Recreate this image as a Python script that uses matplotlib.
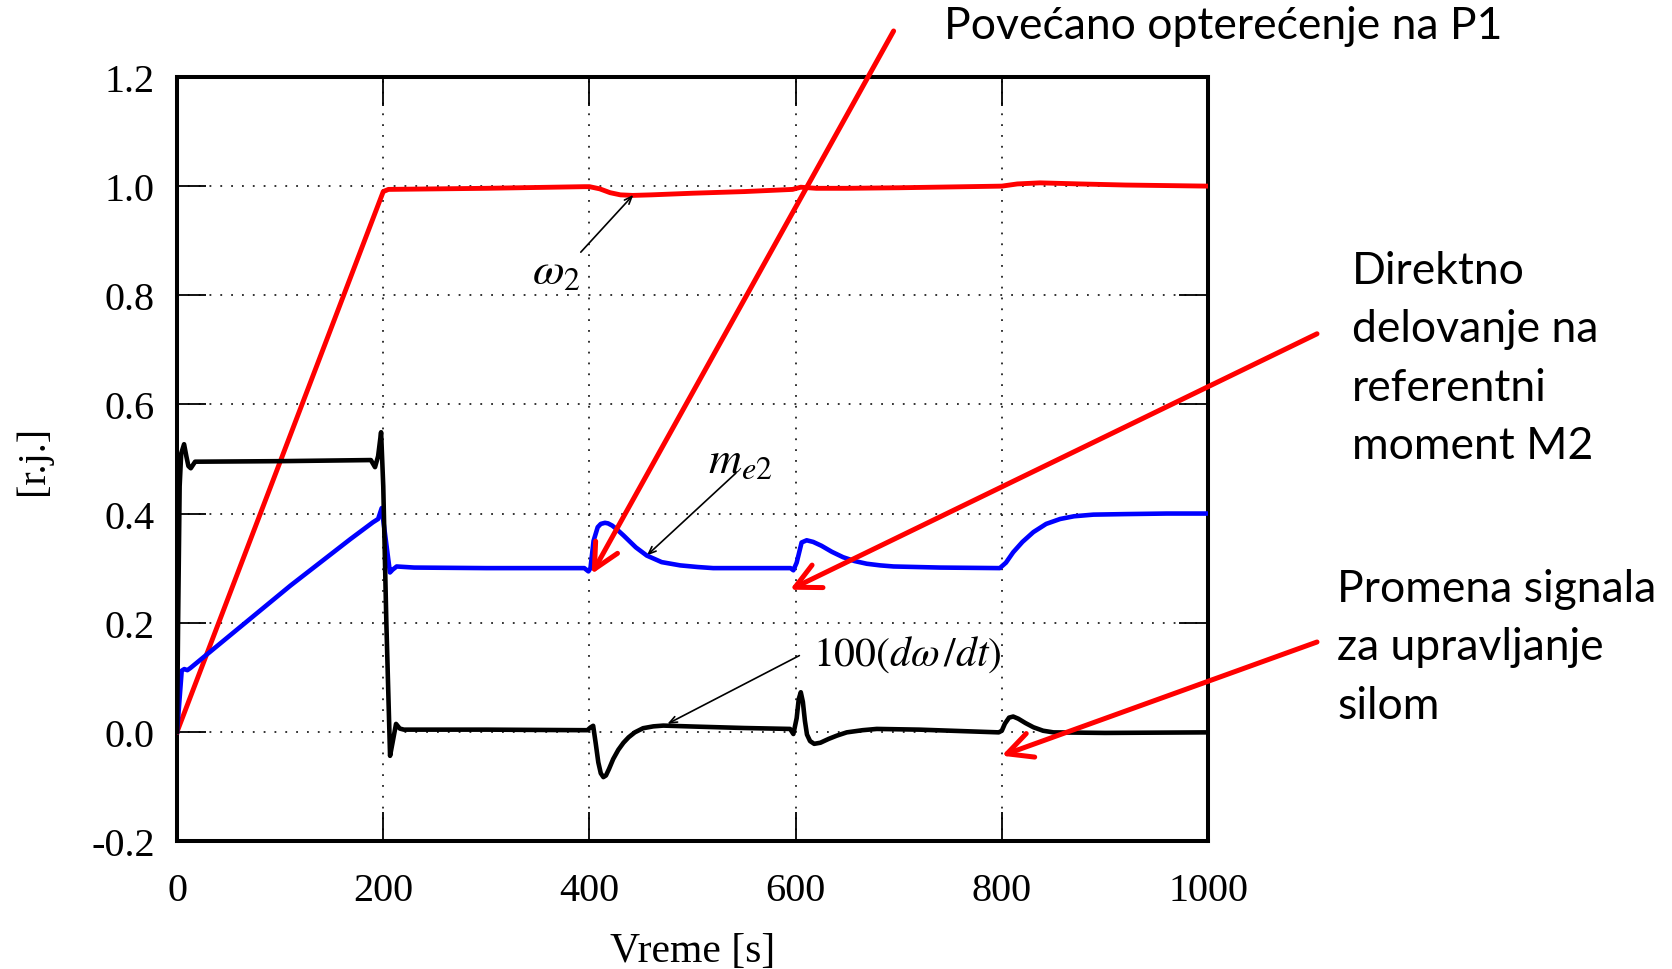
import matplotlib
matplotlib.use('Agg')
import matplotlib.pyplot as plt
from matplotlib.patches import FancyArrowPatch
from matplotlib.ticker import FormatStrFormatter

plt.rcParams['font.family'] = ['Liberation Serif', 'DejaVu Serif']
plt.rcParams['mathtext.fontset'] = 'stix'

# omega_2 (red)
t_w2 = [0, 200, 205, 300, 395, 400, 410, 420, 430, 442, 460, 500, 550, 597, 605,
        620, 650, 700, 800, 815, 837, 876, 920, 1000]
w2 = [0.0, 0.990, 0.994, 0.996, 0.999, 0.999, 0.995, 0.988, 0.984, 0.983, 0.984,
      0.987, 0.990, 0.994, 0.998, 0.996, 0.996, 0.997, 1.000, 1.004, 1.006, 1.004,
      1.002, 1.000]

# m_e2 (blue)
t_me2 = [0, 4.5, 7, 10, 13, 110, 168, 190, 195, 198.5, 206.5, 209, 213, 230, 300,
         395, 399, 401, 404, 408, 411, 415, 418, 422, 426, 433, 445, 455.6, 470, 488,
         505, 520, 560, 595, 597.8, 601, 605.8, 610.7, 617, 625, 635, 646, 657, 669,
         682, 695, 740, 798, 804, 811, 820, 830.6, 843, 856.5, 870, 888.8, 920, 960,
         1000]
me2 = [0.0, 0.112, 0.115, 0.113, 0.117, 0.268, 0.353, 0.384, 0.390, 0.410, 0.292,
       0.297, 0.303, 0.301, 0.300, 0.300, 0.294, 0.300, 0.350, 0.375, 0.381, 0.383,
       0.382, 0.378, 0.372, 0.360, 0.338, 0.323, 0.311, 0.305, 0.302, 0.300, 0.300,
       0.300, 0.296, 0.310, 0.347, 0.351, 0.348, 0.341, 0.330, 0.320, 0.313, 0.308,
       0.305, 0.303, 0.301, 0.300, 0.310, 0.329, 0.348, 0.366, 0.381, 0.390, 0.395,
       0.398, 0.399, 0.400, 0.400]

# 100(d omega/dt) (black)
t_dw = [0, 1, 2.5, 4, 6.8, 9, 11, 13.3, 17.5, 100, 188, 192, 195, 197.9, 200, 203,
        206.6, 209, 212.4, 216, 220, 300, 395, 398, 401, 403.6, 406, 408.6, 411,
        413.5, 416, 419, 423, 428, 433, 438, 444, 452, 462, 471.6, 504, 550, 594.6,
        597.8, 601, 603, 605, 607, 609, 611, 614, 618, 624, 632, 640, 649.6, 665,
        678.7, 720, 797, 800, 803, 807, 811, 816, 823, 830.6, 840, 850, 900, 1000]
dw = [0.0, 0.20, 0.45, 0.51, 0.527, 0.505, 0.487, 0.483, 0.495, 0.496, 0.498, 0.485,
      0.505, 0.549, 0.45, 0.20, -0.044, -0.02, 0.0145, 0.006, 0.004, 0.004, 0.003,
      0.003, 0.008, 0.011, -0.020, -0.056, -0.076, -0.083, -0.080, -0.068, -0.050,
      -0.033, -0.020, -0.010, -0.001, 0.0066, 0.010, 0.0114, 0.0095, 0.007, 0.0053,
      -0.004, 0.025, 0.060, 0.0725, 0.055, 0.020, -0.005, -0.017, -0.022, -0.020,
      -0.013, -0.007, -0.001, 0.003, 0.0053, 0.004, -0.001, 0.002, 0.015, 0.026,
      0.028, 0.024, 0.016, 0.0084, 0.002, -0.001, -0.002, -0.001]

xticks = [0, 200, 400, 600, 800, 1000]
yticks = [-0.2, 0.0, 0.2, 0.4, 0.6, 0.8, 1.0, 1.2]

fig = plt.figure(figsize=(16.72, 9.70), dpi=100)
ax = fig.add_axes([0.1059, 0.1320, 0.6166, 0.7876])

ax.plot(t_w2, w2, color='#ff0000', lw=3.5, zorder=3)
ax.plot(t_me2, me2, color='#0000ff', lw=3.3, zorder=4)
ax.plot(t_dw, dw, color='black', lw=3.3, zorder=5)

ax.set_xlim(0, 1000)
ax.set_ylim(-0.2, 1.2)
ax.set_xticks(xticks)
ax.set_yticks(yticks)
ax.yaxis.set_major_formatter(FormatStrFormatter('%.1f'))
ax.tick_params(direction='in', length=21, width=1.3, top=True, right=True,
               labelsize=29, pad=16)
ax.tick_params(axis='x', pad=22)
for s in ax.spines.values():
    s.set_linewidth(2.9)
ax.grid(True, color='#222222', lw=1.3, linestyle=(0, (1, 5)), zorder=1)

ax.set_xlabel('Vreme [s]', fontsize=30)
ax.xaxis.set_label_coords(0.5, -0.118)
ax.set_ylabel('[r.j.]', fontsize=29)
ax.yaxis.set_label_coords(-0.121, 0.5)

# curve labels
arr = dict(arrowstyle='->,head_length=0.55,head_width=0.22', lw=1.2, color='black',
           shrinkA=0, shrinkB=0)
ax.text(367.6, 0.843, r'$\omega_{\mathit{2}}$', fontsize=33, ha='center', va='center')
ax.annotate('', xy=(442.6, 0.984), xytext=(391.6, 0.879), arrowprops=arr)
ax.text(546, 0.496, r'$m_{e\mathit{2}}$', fontsize=33, ha='center', va='center')
ax.annotate('', xy=(455.6, 0.323), xytext=(542, 0.474), arrowprops=arr)
ax.text(617, 0.1427, r'$100(d\omega\,/dt)$', fontsize=30, ha='left', va='center')
ax.annotate('', xy=(475.6, 0.0145), xytext=(603.6, 0.1397), arrowprops=arr)

# red explanation arrows (figure pixels -> fraction)
W, H = 1672.0, 970.0
red_arrows = [((893.6, 32), (591.7, 575)),
              ((1317, 334.8), (790, 590.7)),
              ((1317, 643), (1001.7, 756.7))]
for (x0, y0), (x1, y1) in red_arrows:
    p = FancyArrowPatch((x0 / W, 1 - y0 / H), (x1 / W, 1 - y1 / H),
                        transform=fig.transFigure,
                        arrowstyle='->,head_length=0.9,head_width=0.45',
                        mutation_scale=20, color='#ff0000', lw=3.6,
                        shrinkA=0, shrinkB=0, zorder=10)
    fig.add_artist(p)

sans = ['Lato', 'DejaVu Sans']
fig.text(943.7 / W, 1 - 26.7 / H, 'Povećano opterećenje na P1', family=sans,
         fontsize=32, ha='left', va='center')
fig.text(1352 / W, 1 - 359 / H, 'Direktno\ndelovanje na\nreferentni\nmoment M2',
         family=sans, fontsize=32, ha='left', va='center', linespacing=1.53)
fig.text(1337 / W, 1 - 648 / H, 'Promena signala\nza upravljanje\nsilom',
         family=sans, fontsize=32, ha='left', va='center', linespacing=1.53)

fig.savefig('out.png', dpi=100)
